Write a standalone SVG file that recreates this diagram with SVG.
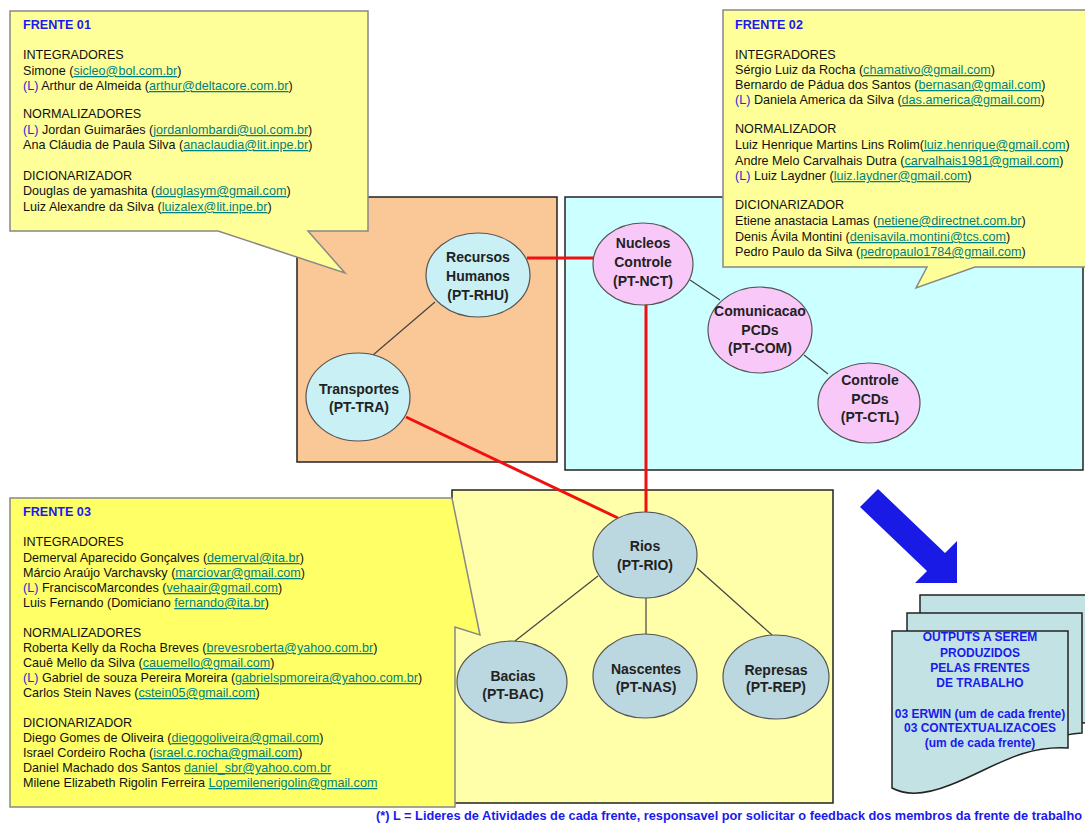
<svg xmlns="http://www.w3.org/2000/svg" width="1085" height="823" viewBox="0 0 1085 823">
<style>
text{font-family:"Liberation Sans",Arial,sans-serif;}
.t{font-size:12.6px;fill:#111;}
.hd{font-size:12.6px;font-weight:bold;fill:#1a1aee;}
.l{fill:#2a2ad0;}
.em{fill:#007f7f;text-decoration:underline;}
.n{font-size:14px;font-weight:bold;fill:#222;text-anchor:middle;}
.box{stroke:#222;stroke-width:1.5;}
.call{stroke:#888;stroke-width:1.5;}
.el{stroke:#555;stroke-width:1.2;}
.red{stroke:#f01010;stroke-width:3;fill:none;}
.thin{stroke:#444;stroke-width:1.2;fill:none;}
.doc{fill:#c2e2e4;stroke:#222;stroke-width:1.5;}
.out{font-size:12px;font-weight:bold;fill:#1a1aee;text-anchor:middle;}
.foot{font-size:12.5px;font-weight:bold;fill:#1a1aee;}
</style>
<rect width="1085" height="823" fill="#ffffff"/>

<g id="area-rhu"><rect class="box" x="297" y="197" width="260" height="265" fill="#fac797"/></g>
<g id="area-nct"><rect class="box" x="565" y="197" width="518" height="273" fill="#ccffff"/></g>
<g id="area-rio"><rect class="box" x="452" y="490" width="381" height="313" fill="#ffffaa"/></g>

<g id="frente01">
<path class="call" d="M10,11 H368 V231 H308 L345,273 L218,231 H10 Z" fill="#ffff99"/>
<text x="23" y="29" class="hd">FRENTE 01</text>
<text x="23" y="59" class="t">INTEGRADORES</text>
<text x="23" y="75" class="t">Simone (<tspan class="em">sicleo@bol.com.br</tspan>)</text>
<text x="23" y="90" class="t"><tspan class="l">(L)</tspan> Arthur de Almeida (<tspan class="em">arthur@deltacore.com.br</tspan>)</text>
<text x="23" y="118" class="t">NORMALIZADORES</text>
<text x="23" y="134" class="t"><tspan class="l">(L)</tspan> Jordan Guimarães (<tspan class="em">jordanlombardi@uol.com.br</tspan>)</text>
<text x="23" y="149" class="t">Ana Cláudia de Paula Silva (<tspan class="em">anaclaudia@lit.inpe.br</tspan>)</text>
<text x="23" y="180" class="t">DICIONARIZADOR</text>
<text x="23" y="195" class="t">Douglas de yamashita (<tspan class="em">douglasym@gmail.com</tspan>)</text>
<text x="23" y="211" class="t">Luiz Alexandre da Silva (<tspan class="em">luizalex@lit.inpe.br</tspan>)</text>
</g>

<g id="frente02">
<path class="call" d="M723,10 H1092 V267 H975 L916,288 L927,267 H723 Z" fill="#ffff99"/>
<text x="735" y="29" class="hd">FRENTE 02</text>
<text x="735" y="59" class="t">INTEGRADORES</text>
<text x="735" y="74" class="t">Sérgio Luiz da Rocha (<tspan class="em">chamativo@gmail.com</tspan>)</text>
<text x="735" y="89" class="t">Bernardo de Pádua dos Santos (<tspan class="em">bernasan@gmail.com</tspan>)</text>
<text x="735" y="104" class="t"><tspan class="l">(L)</tspan> Daniela America da Silva (<tspan class="em">das.america@gmail.com</tspan>)</text>
<text x="735" y="133" class="t">NORMALIZADOR</text>
<text x="735" y="149" class="t">Luiz Henrique Martins Lins Rolim(<tspan class="em">luiz.henrique@gmail.com</tspan>)</text>
<text x="735" y="165" class="t">Andre Melo Carvalhais Dutra (<tspan class="em">carvalhais1981@gmail.com</tspan>)</text>
<text x="735" y="180" class="t"><tspan class="l">(L)</tspan> Luiz Laydner (<tspan class="em">luiz.laydner@gmail.com</tspan>)</text>
<text x="735" y="209" class="t">DICIONARIZADOR</text>
<text x="735" y="225" class="t">Etiene anastacia Lamas (<tspan class="em">netiene@directnet.com.br</tspan>)</text>
<text x="735" y="241" class="t">Denis Ávila Montini (<tspan class="em">denisavila.montini@tcs.com</tspan>)</text>
<text x="735" y="256" class="t">Pedro Paulo da Silva (<tspan class="em">pedropaulo1784@gmail.com</tspan>)</text>
</g>

<g id="frente03">
<path class="call" d="M10,498 H452 L480,635 L455,627 V807 H10 Z" fill="#ffff66"/>
<text x="23" y="516" class="hd">FRENTE 03</text>
<text x="23" y="546" class="t">INTEGRADORES</text>
<text x="23" y="562" class="t">Demerval Aparecido Gonçalves (<tspan class="em">demerval@ita.br</tspan>)</text>
<text x="23" y="577" class="t">Márcio Araújo Varchavsky  (<tspan class="em">marciovar@gmail.com</tspan>)</text>
<text x="23" y="592" class="t"><tspan class="l">(L)</tspan> FranciscoMarcondes (<tspan class="em">vehaair@gmail.com</tspan>)</text>
<text x="23" y="607" class="t">Luis Fernando (Domiciano <tspan class="em">fernando@ita.br</tspan>)</text>
<text x="23" y="637" class="t">NORMALIZADORES</text>
<text x="23" y="652" class="t">Roberta Kelly da Rocha Breves (<tspan class="em">brevesroberta@yahoo.com.br</tspan>)</text>
<text x="23" y="667" class="t">Cauê Mello da Silva (<tspan class="em">cauemello@gmail.com</tspan>)</text>
<text x="23" y="682" class="t"><tspan class="l">(L)</tspan>  Gabriel de souza Pereira Moreira (<tspan class="em">gabrielspmoreira@yahoo.com.br</tspan>)</text>
<text x="23" y="697" class="t">Carlos Stein Naves (<tspan class="em">cstein05@gmail.com</tspan>)</text>
<text x="23" y="727" class="t">DICIONARIZADOR</text>
<text x="23" y="742" class="t">Diego Gomes de Oliveira (<tspan class="em">diegogoliveira@gmail.com</tspan>)</text>
<text x="23" y="757" class="t">Israel Cordeiro Rocha (<tspan class="em">israel.c.rocha@gmail.com</tspan>)</text>
<text x="23" y="772" class="t">Daniel Machado dos Santos <tspan class="em">daniel_sbr@yahoo.com.br</tspan></text>
<text x="23" y="787" class="t">Milene Elizabeth Rigolin Ferreira <tspan class="em">Lopemilenerigolin@gmail.com</tspan></text>
</g>

<g id="connectors">
<line class="red" x1="527" y1="258" x2="595" y2="258"/>
<line class="red" x1="646" y1="304" x2="646" y2="513"/>
<line class="red" x1="406" y1="417" x2="618" y2="518"/>
<line class="thin" x1="435" y1="302" x2="373" y2="355"/>
<line class="thin" x1="690" y1="280" x2="720" y2="300"/>
<line class="thin" x1="804" y1="355" x2="828" y2="374"/>
<line class="thin" x1="598" y1="576" x2="515" y2="641"/>
<line class="thin" x1="646" y1="598" x2="646" y2="635"/>
<line class="thin" x1="697" y1="568" x2="772" y2="635"/>
</g>

<g id="pt-rhu"><ellipse class="el" cx="478" cy="275" rx="52" ry="42" fill="#c8f0f5"/>
<text class="n" x="478" y="262">Recursos</text><text class="n" x="478" y="281">Humanos</text><text class="n" x="478" y="300">(PT-RHU)</text></g>
<g id="pt-tra"><ellipse class="el" cx="358" cy="397" rx="52" ry="44" fill="#c8f0f5"/>
<text class="n" x="359" y="394">Transportes</text><text class="n" x="359" y="412">(PT-TRA)</text></g>
<g id="pt-nct"><ellipse class="el" cx="643" cy="264" rx="50" ry="41" fill="#f8c8f8"/>
<text class="n" x="643" y="248">Nucleos</text><text class="n" x="643" y="267">Controle</text><text class="n" x="643" y="286">(PT-NCT)</text></g>
<g id="pt-com"><ellipse class="el" cx="760" cy="330" rx="52" ry="43" fill="#f8c8f8"/>
<text class="n" x="760" y="316">Comunicacao</text><text class="n" x="760" y="335">PCDs</text><text class="n" x="760" y="353">(PT-COM)</text></g>
<g id="pt-ctl"><ellipse class="el" cx="869" cy="403" rx="51" ry="40" fill="#f8c8f8"/>
<text class="n" x="870" y="385">Controle</text><text class="n" x="870" y="404">PCDs</text><text class="n" x="870" y="422">(PT-CTL)</text></g>
<g id="pt-rio"><ellipse class="el" cx="645" cy="555" rx="52" ry="43" fill="#bbd8e0"/>
<text class="n" x="645" y="551">Rios</text><text class="n" x="645" y="570">(PT-RIO)</text></g>
<g id="pt-bac"><ellipse class="el" cx="512" cy="682" rx="55" ry="41" fill="#bbd8e0"/>
<text class="n" x="513" y="681">Bacias</text><text class="n" x="513" y="699">(PT-BAC)</text></g>
<g id="pt-nas"><ellipse class="el" cx="645" cy="676" rx="52" ry="42" fill="#bbd8e0"/>
<text class="n" x="646" y="674">Nascentes</text><text class="n" x="646" y="692">(PT-NAS)</text></g>
<g id="pt-rep"><ellipse class="el" cx="776" cy="677" rx="53" ry="42" fill="#bbd8e0"/>
<text class="n" x="776" y="675">Represas</text><text class="n" x="776" y="692">(PT-REP)</text></g>

<g id="big-arrow"><polygon points="860,507 927,571 915,583 957,583 957,541 945,553 878,489" fill="#1a1ae6"/></g>

<g id="outputs">
<path class="doc" d="M920,595 H1095 V722 C1060,724 1030,735 1000,745 L920,745 Z"/>
<path class="doc" d="M907,613 H1082 V733 C1050,735 1020,750 990,760 L907,760 Z"/>
<path class="doc" d="M892,631 H1068 V748 C1020,745 990,770 950,785 C925,795 905,795 892,788 Z"/>
<text class="out" x="980" y="641">OUTPUTS A SEREM</text>
<text class="out" x="980" y="657">PRODUZIDOS</text>
<text class="out" x="980" y="672">PELAS FRENTES</text>
<text class="out" x="980" y="687">DE TRABALHO</text>
<text class="out" x="980" y="718">03 ERWIN (um de cada frente)</text>
<text class="out" x="980" y="732">03 CONTEXTUALIZACOES</text>
<text class="out" x="980" y="747">(um de cada frente)</text>
</g>

<text class="foot" x="376" y="820" textLength="706" lengthAdjust="spacingAndGlyphs">(*) L = Lideres de Atividades de cada frente, responsavel por solicitar o feedback dos membros da frente de trabalho</text>
</svg>
